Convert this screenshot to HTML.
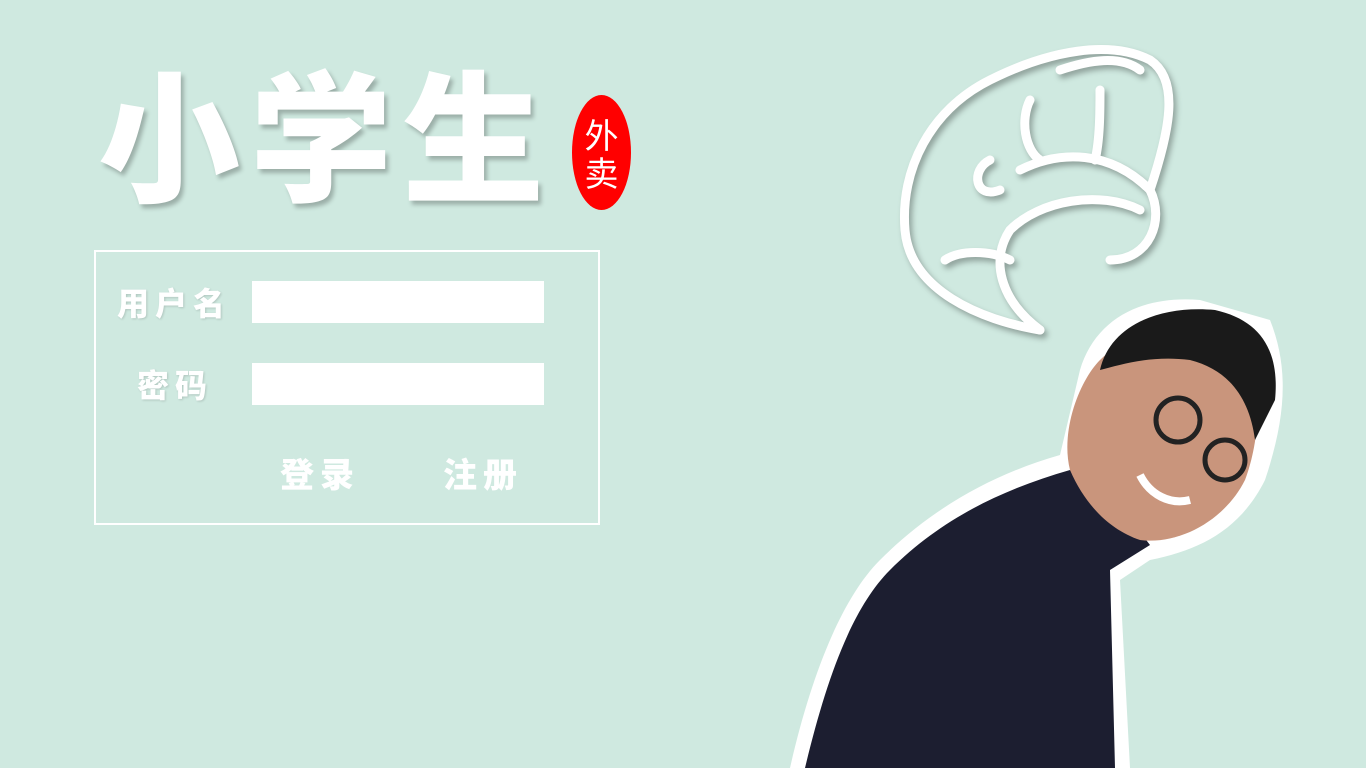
<!DOCTYPE html>
<html>
<head>
<meta charset="utf-8">
<style>
  html,body{margin:0;padding:0;}
  body{width:1366px;height:768px;background:#cfe9e0;position:relative;overflow:hidden;font-family:"Liberation Sans","Noto Sans CJK SC",sans-serif;}
  .title{position:absolute;left:98px;top:58px;font-size:142px;font-weight:900;color:#fff;letter-spacing:10px;line-height:1;text-shadow:3px 4px 4px rgba(0,0,0,0.25);font-family:"Noto Sans CJK SC","WenQuanYi Zen Hei",sans-serif;}
  .seal{position:absolute;left:572px;top:95px;width:59px;height:115px;border-radius:50%;background:#ff0000;color:#fff;font-size:34px;line-height:38px;text-align:center;display:flex;flex-direction:column;justify-content:center;font-family:"Noto Sans CJK SC",sans-serif;}
  .box{position:absolute;left:94px;top:250px;width:502px;height:271px;border:2px solid #fff;}
  .label{position:absolute;color:#fff;font-size:32px;font-weight:900;letter-spacing:6px;font-family:"Noto Sans CJK SC",sans-serif;line-height:1;text-shadow:1px 1px 2px rgba(0,0,0,0.15);}
  .input{position:absolute;left:252px;width:292px;height:42px;background:#fff;border:none;padding:0;margin:0;}
  .btn{position:absolute;color:#fff;font-size:34px;font-weight:900;letter-spacing:6px;font-family:"Noto Sans CJK SC",sans-serif;line-height:1;cursor:pointer;}
  svg{position:absolute;left:0;top:0;}
</style>
</head>
<body>
<svg width="1366" height="768">
  <g fill="none" stroke="#fff" stroke-width="9" stroke-linecap="round" style="filter:drop-shadow(3px 4px 3px rgba(0,0,0,0.3))">
    <path d="M1040 330 C980 320 910 290 905 230 C900 170 930 110 990 80 C1050 50 1110 40 1150 60 C1180 80 1170 130 1150 190 C1165 220 1150 260 1110 260"/>
    <path d="M1040 330 C1000 300 990 260 1010 230 C1040 200 1100 190 1140 210"/>
    <path d="M1020 170 C1060 150 1110 150 1150 190"/>
    <path d="M990 160 C970 170 975 200 1000 190"/>
    <path d="M1030 100 C1020 120 1025 150 1040 160"/>
    <path d="M1100 90 C1100 110 1100 140 1095 160"/>
    <path d="M1060 70 C1090 60 1120 55 1140 70"/>
    <path d="M945 260 C960 250 990 250 1010 260"/>
  </g>
  <g>
    <path d="M790 768 C810 680 840 600 880 560 C930 510 990 475 1060 455 L1080 370 C1095 320 1140 295 1200 300 L1270 320 C1290 370 1285 420 1265 480 C1240 530 1200 550 1150 560 L1120 580 L1130 768 Z" fill="#fff"/>
    <path d="M805 768 C825 685 850 610 890 570 C940 520 1000 490 1070 470 L1100 480 L1150 545 L1110 570 L1115 768 Z" fill="#1c1e30"/>
    <path d="M1070 470 C1060 430 1080 380 1100 360 C1130 330 1190 320 1240 340 C1265 380 1260 440 1245 480 C1225 520 1180 545 1140 540 C1110 530 1085 505 1070 470 Z" fill="#c9957c"/>
    <path d="M1100 370 C1110 325 1160 305 1215 310 C1260 320 1280 350 1275 400 L1255 440 C1250 400 1230 370 1190 360 C1150 355 1120 365 1100 370 Z" fill="#1a1a1a"/>
    <circle cx="1178" cy="420" r="22" fill="none" stroke="#222" stroke-width="5"/>
    <circle cx="1225" cy="460" r="20" fill="none" stroke="#222" stroke-width="5"/>
    <path d="M1140 475 C1150 495 1170 505 1190 500" stroke="#fff" stroke-width="8" fill="none"/>
  </g>
</svg>
<div class="title">小学生</div>
<div class="seal"><span>外</span><span>卖</span></div>
<div class="box"></div>
<div class="label" style="left:117px;top:286px;">用户名</div>
<input class="input" style="top:281px;">
<div class="label" style="left:137px;top:368px;">密码</div>
<input class="input" type="password" style="top:363px;">
<div class="btn" style="left:280px;top:456px;">登录</div>
<div class="btn" style="left:443px;top:456px;">注册</div>
</body>
</html>
